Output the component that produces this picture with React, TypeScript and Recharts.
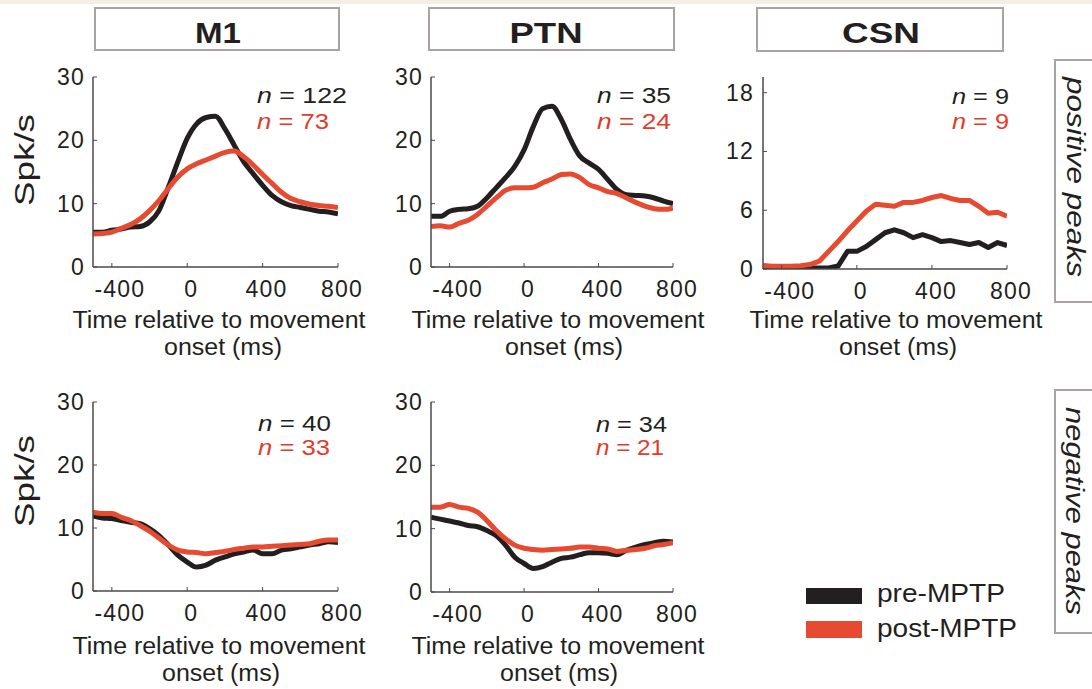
import React from 'react'
import { LineChart, Line, XAxis, YAxis } from 'recharts'

// time bins (ms relative to movement onset)
const times = [-500, -450, -400, -350, -300, -250, -200, -150, -100, -50, 0, 50, 100, 150, 200, 250, 300, 350, 400, 450, 500, 550, 600, 650, 700, 750, 800]
const xTicks = [-400, 0, 400, 800]
const rateTicks = [0, 10, 20, 30]
const csnTicks = [0, 6, 12, 18]

// positive peaks
const m1PosPre = [5.5, 5.5, 5.8, 6.0, 6.3, 6.4, 7.1, 8.9, 12.6, 16.6, 20.3, 22.6, 23.6, 23.8, 21.8, 19.2, 16.6, 14.7, 12.9, 11.3, 10.3, 9.7, 9.4, 9.1, 8.8, 8.7, 8.4]
const m1PosPost = [5.2, 5.3, 5.5, 6.1, 6.7, 7.6, 8.9, 10.5, 12.4, 14.2, 15.5, 16.3, 16.9, 17.5, 18.1, 18.3, 17.4, 16.1, 14.6, 13.2, 11.8, 10.8, 10.3, 9.9, 9.7, 9.6, 9.4]
const ptnPosPre = [8.0, 8.0, 8.8, 9.1, 9.2, 9.6, 10.9, 12.5, 14.1, 15.9, 18.5, 22.2, 25.0, 25.4, 23.3, 20.1, 17.5, 16.4, 15.4, 13.8, 12.2, 11.4, 11.3, 11.2, 10.9, 10.4, 10.0]
const ptnPosPost = [6.4, 6.5, 6.3, 6.9, 7.4, 8.3, 9.6, 10.9, 12.1, 12.5, 12.5, 12.6, 13.3, 13.9, 14.6, 14.7, 14.1, 13.0, 12.5, 11.9, 11.6, 10.9, 10.2, 9.6, 9.2, 9.1, 9.3]
const csnPosPre = [0.1, 0.1, 0.1, 0.1, 0.1, 0.1, 0.1, 0.1, 0.3, 1.8, 1.8, 2.3, 3.0, 3.7, 4.0, 3.7, 3.2, 3.5, 3.2, 2.8, 2.9, 2.7, 2.5, 2.7, 2.2, 2.7, 2.4]
const csnPosPost = [0.35, 0.27, 0.27, 0.27, 0.34, 0.45, 0.8, 1.8, 2.8, 3.9, 4.9, 5.9, 6.6, 6.5, 6.4, 6.8, 6.8, 7.0, 7.3, 7.5, 7.2, 7.0, 7.0, 6.4, 5.7, 5.8, 5.4]

// negative peaks
const m1NegPre = [11.9, 11.6, 11.5, 11.2, 10.9, 10.7, 9.9, 8.8, 7.3, 5.7, 4.6, 3.8, 4.1, 4.9, 5.4, 5.9, 6.2, 6.5, 5.9, 5.9, 6.5, 6.7, 7.0, 7.3, 7.5, 7.8, 7.7]
const m1NegPost = [12.5, 12.3, 12.3, 11.7, 11.2, 10.4, 9.5, 8.4, 7.3, 6.5, 6.2, 6.1, 5.9, 6.1, 6.3, 6.6, 6.8, 7.0, 7.0, 7.1, 7.2, 7.3, 7.4, 7.5, 7.9, 8.1, 8.1]
const ptnNegPre = [11.8, 11.5, 11.2, 10.9, 10.5, 10.3, 9.7, 8.9, 7.4, 5.5, 4.5, 3.7, 4.0, 4.7, 5.3, 5.5, 5.9, 6.2, 6.2, 6.1, 5.9, 6.6, 7.1, 7.5, 7.8, 8.0, 7.9]
const ptnNegPost = [13.4, 13.4, 13.8, 13.4, 13.2, 12.6, 11.3, 9.7, 8.4, 7.4, 6.9, 6.7, 6.6, 6.7, 6.8, 6.9, 7.1, 7.1, 6.9, 6.8, 6.4, 6.6, 6.7, 6.9, 7.3, 7.5, 7.8]

const FONT = '"Liberation Sans", Arial, Helvetica, sans-serif'
const PRE = '#231f20'
const POST = '#e64b32'
const POST_TEXT = '#e23b2b'
const AXIS = '#4a4a4a'
const BOX = '#a9a4a2'

interface PlotRect { x0: number; y0: number; x1: number; y1: number }

const renderXTick = (props: any) => {
  const { x, y, payload } = props
  return (
    <text x={x + (payload.value < 0 ? 8 : 4)} y={y} dy={16} textAnchor="middle"
      fontSize={23} fill={PRE} fontFamily={FONT} letterSpacing={1.2}>
      {payload.value}
    </text>
  )
}

const renderYTick = (props: any) => {
  const { x, y, payload } = props
  return (
    <text x={x} y={y} dy={8} textAnchor="end" fontSize={23} fill={PRE} fontFamily={FONT} letterSpacing={1.2}>
      {payload.value}
    </text>
  )
}

interface PanelProps {
  plot: PlotRect
  pre: number[]
  post: number[]
  yMax: number
  yTicks: number[]
  smooth?: boolean
  yTickMargin?: number
}

const Panel: React.FC<PanelProps> = ({ plot, pre, post, yMax, yTicks, smooth = true, yTickMargin = 12 }) => {
  const data = times.map((t, i) => ({ t, pre: pre[i], post: post[i] }))
  const curve = smooth ? 'monotone' : 'linear'
  return (
    <div style={{ position: 'absolute', left: plot.x0 - 70, top: plot.y0 - 20 }}>
      <LineChart
        width={plot.x1 - plot.x0 + 110}
        height={plot.y1 - plot.y0 + 80}
        data={data}
        margin={{ top: 20, right: 40, bottom: 20, left: 30 }}
      >
        <XAxis type="number" dataKey="t" domain={[-500, 800]} ticks={xTicks} interval={0}
          height={40} tickSize={-4} tickMargin={18} allowDataOverflow
          axisLine={{ stroke: AXIS, strokeWidth: 1.5 }} tickLine={{ stroke: AXIS, strokeWidth: 1 }}
          tick={renderXTick} />
        <YAxis type="number" domain={[0, yMax]} ticks={yTicks} interval={0}
          width={40} tickSize={-4} tickMargin={yTickMargin} allowDataOverflow
          axisLine={{ stroke: AXIS, strokeWidth: 1.5 }} tickLine={{ stroke: AXIS, strokeWidth: 1 }}
          tick={renderYTick} />
        <Line type={curve} dataKey="pre" stroke={PRE} strokeWidth={5} dot={false}
          strokeLinejoin="round" isAnimationActive={false} />
        <Line type={curve} dataKey="post" stroke={POST} strokeWidth={5} dot={false}
          strokeLinejoin="round" isAnimationActive={false} />
      </LineChart>
    </div>
  )
}

const NLabel = ({ x, y, text, color, len }: { x: number; y: number; text: string; color: string; len: number }) => (
  <text x={x} y={y} fontSize={22} fill={color} fontFamily={FONT} textLength={len} lengthAdjust="spacingAndGlyphs">
    <tspan fontStyle="italic">n</tspan> = {text}
  </text>
)

const AxisTitle = ({ cx1, cx2, y }: { cx1: number; cx2: number; y: number }) => (
  <g fontSize={23} fill={PRE} fontFamily={FONT} textAnchor="middle">
    <text x={cx1} y={y} textLength={293} lengthAdjust="spacingAndGlyphs">Time relative to movement</text>
    <text x={cx2} y={y + 27} textLength={118} lengthAdjust="spacingAndGlyphs">onset (ms)</text>
  </g>
)

const App: React.FC = () => {
  return (
    <div style={{ position: 'absolute', left: 0, top: 0, width: 1092, height: 689, background: '#ffffff', overflow: 'hidden', fontFamily: FONT }}>
      <Panel plot={{ x0: 93, y0: 77, x1: 338, y1: 267 }} pre={m1PosPre} post={m1PosPost} yMax={30} yTicks={rateTicks} />
      <Panel plot={{ x0: 431, y0: 77, x1: 673, y1: 267 }} pre={ptnPosPre} post={ptnPosPost} yMax={30} yTicks={rateTicks} />
      <Panel plot={{ x0: 763, y0: 77, x1: 1007, y1: 269 }} pre={csnPosPre} post={csnPosPost} yMax={19.6} yTicks={csnTicks} smooth={false} yTickMargin={13} />
      <Panel plot={{ x0: 93, y0: 402, x1: 338, y1: 591 }} pre={m1NegPre} post={m1NegPost} yMax={30} yTicks={rateTicks} />
      <Panel plot={{ x0: 431, y0: 402, x1: 673, y1: 592 }} pre={ptnNegPre} post={ptnNegPost} yMax={30} yTicks={rateTicks} />

      <svg width={1092} height={689} style={{ position: 'absolute', left: 0, top: 0, pointerEvents: 'none' }}>
        <rect x={0} y={0} width={1092} height={4} fill="#f3efe2" />

        {/* column titles */}
        <rect x={95} y={8} width={244} height={42} fill="#fff" stroke={BOX} strokeWidth={2} />
        <rect x={429} y={8} width={245} height={42} fill="#fff" stroke={BOX} strokeWidth={2} />
        <rect x={757} y={8} width={246} height={43} fill="#fff" stroke={BOX} strokeWidth={2} />
        <g fontSize={29} fontWeight="bold" fill={PRE} fontFamily={FONT} textAnchor="middle">
          <text x={218} y={43} textLength={46} lengthAdjust="spacingAndGlyphs">M1</text>
          <text x={546} y={43} textLength={73} lengthAdjust="spacingAndGlyphs">PTN</text>
          <text x={881} y={43} textLength={78} lengthAdjust="spacingAndGlyphs">CSN</text>
        </g>

        {/* y titles */}
        <g fontSize={27} fill={PRE} fontFamily={FONT} textAnchor="middle">
          <text transform="translate(34,160) rotate(-90)" textLength={92} lengthAdjust="spacingAndGlyphs">Spk/s</text>
          <text transform="translate(34,481) rotate(-90)" textLength={92} lengthAdjust="spacingAndGlyphs">Spk/s</text>
        </g>

        {/* n counts */}
        <NLabel x={257} y={103} text="122" color={PRE} len={90} />
        <NLabel x={257} y={129} text="73" color={POST_TEXT} len={72} />
        <NLabel x={597} y={103} text="35" color={PRE} len={74} />
        <NLabel x={597} y={129} text="24" color={POST_TEXT} len={74} />
        <NLabel x={952} y={104} text="9" color={PRE} len={57} />
        <NLabel x={952} y={129} text="9" color={POST_TEXT} len={57} />
        <NLabel x={258} y={431} text="40" color={PRE} len={73} />
        <NLabel x={258} y={455} text="33" color={POST_TEXT} len={72} />
        <NLabel x={596} y={432} text="34" color={PRE} len={71} />
        <NLabel x={596} y={455} text="21" color={POST_TEXT} len={68} />

        {/* x titles */}
        <AxisTitle cx1={219} cx2={223} y={328} />
        <AxisTitle cx1={558} cx2={564} y={328} />
        <AxisTitle cx1={896} cx2={898} y={328} />
        <AxisTitle cx1={219} cx2={221} y={654} />
        <AxisTitle cx1={558} cx2={559} y={654} />

        {/* row labels */}
        <rect x={1055} y={60} width={60} height={242} fill="#fff" stroke={BOX} strokeWidth={2} />
        <rect x={1055} y={390} width={60} height={243} fill="#fff" stroke={BOX} strokeWidth={2} />
        <g fontSize={25} fontStyle="italic" fill={PRE} fontFamily={FONT} textAnchor="middle">
          <text transform="translate(1067,177) rotate(90)" textLength={200} lengthAdjust="spacingAndGlyphs">positive peaks</text>
          <text transform="translate(1066,511) rotate(90)" textLength={208} lengthAdjust="spacingAndGlyphs">negative peaks</text>
        </g>

        {/* legend */}
        <rect x={806} y={588} width={56} height={16} fill={PRE} />
        <rect x={806} y={621} width={56} height={17} fill={POST} />
        <g fontSize={25} fill={PRE} fontFamily={FONT}>
          <text x={877} y={602} textLength={128} lengthAdjust="spacingAndGlyphs">pre-MPTP</text>
          <text x={877} y={637} textLength={140} lengthAdjust="spacingAndGlyphs">post-MPTP</text>
        </g>
      </svg>
    </div>
  )
}

export default App
